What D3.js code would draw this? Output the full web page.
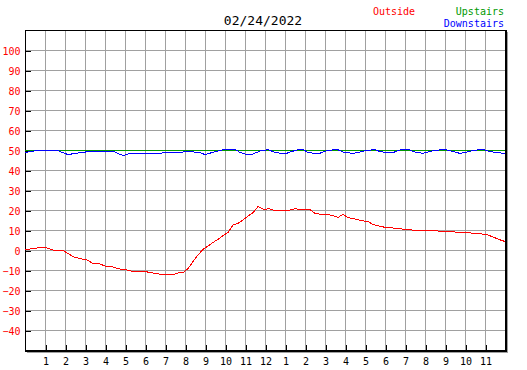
<!DOCTYPE html>
<html>
<head>
<meta charset="utf-8">
<script src="https://cdn.jsdelivr.net/npm/d3@7"></script>
<style>
  body { margin: 0; background: #fff; }
  svg { display: block; font-family: "DejaVu Sans Mono", monospace; }
</style>
</head>
<body>
<svg class="canvas"></svg>
<script>
/*
  daily temperature chart - outside / upstairs / downstairs
*/

var dwidth = 527;
var dheight = 370;
var pleft = 25, pright = 505, ptop = 30, pbottom = 350;

// data - hours since midnight and degrees
var outsideHours = [0,0.4,0.83,1.08,1.4,1.9,2.15,2.4,2.75,3.1,3.4,3.75,4.0,4.35,4.6,5.1,5.5,6.0,6.25,6.85,7.4,7.65,7.9,8.15,8.4,8.65,8.9,9.15,9.4,9.65,9.9,10.15,10.4,10.65,10.9,11.15,11.4,11.65,11.85,12.0,12.15,12.4,12.75,13.1,13.5,13.9,14.25,14.5,14.85,15.15,15.4,15.65,15.9,16.15,16.5,16.75,17.15,17.4,17.75,18.1,18.65,19.0,19.6,20.65,21.85,22.6,23.1,23.35,23.6,23.85,24];
var outsideTemps = [0.3,0.6,1.5,1.0,0,-0.3,-1.7,-3.3,-4.3,-5,-6.7,-7,-8,-8.2,-9.3,-10,-11,-10.7,-11.3,-12.2,-12.3,-11.5,-11.3,-9.3,-5.8,-2.5,0.3,2,3.8,5.3,7.2,8.7,12.5,13.3,15,17,18.7,21.7,20.8,20,20.8,20,19.8,19.5,20.7,20,20.2,18.3,17.8,17.7,17.2,16.3,17.8,16.2,15.5,14.8,14.2,12.8,11.8,11.2,10.8,10.3,9.8,9.5,8.8,8.3,7.7,6.7,5.7,4.7,4.3];

var upstairsHours = [0,0.6,1.5,1.6,3.3,3.4,6.5,6.6,8.8,8.9,11.0,11.1,24];
var upstairsTemps = [49.6,50,50,49.6,49.6,50,50,49.6,49.6,50,50,50,50];

var downstairsHours = [0,0.25,0.65,1.6,1.9,2.15,2.5,2.9,3.35,4.4,4.65,4.9,5.15,5.5,6.4,7.6,8.25,8.75,9.0,9.35,9.85,10.5,10.75,11.1,11.4,11.75,12.15,12.5,13.0,13.25,13.6,13.9,14.15,14.65,14.9,15.15,15.6,15.9,16.4,16.75,17.1,17.5,17.75,18.15,18.4,18.75,19.15,19.5,19.9,20.15,20.5,21.0,21.4,21.75,22.1,22.4,22.9,23.25,23.65,23.9,24];
var downstairsTemps = [48.7,49.2,49.8,49.8,48.7,47.7,48.3,48.8,49.5,49.5,48.3,47.2,48,48.3,48.3,48.8,49.2,48.7,47.7,48.7,50,50.3,48.8,47.7,48,49.5,50.2,48.8,48,49,50,50.2,48.8,48,49,49.8,50.3,49,48.3,49,49.8,50.2,49.2,48.7,48.7,50,50.3,49,48.3,49,49.8,50.3,49.2,48.3,49,49.8,50.3,49.2,48.7,48.3,48.3];

var yTicks = [100,90,80,70,60,50,40,30,20,10,0,-10,-20,-30,-40];
var xTicks = d3.range(1,24);
var titleText = "02/24/2022";

//Grab canvas
var canv = d3.select(".canvas").attr("width", dwidth).attr("height", dheight);

//Scales
var sx = d3.scaleLinear().domain([0,24]).range([pleft,pright]);
var sy = d3.scaleLinear().domain([-50,110]).range([pbottom,ptop]);

//Grid
var grid = canv.append("g").attr("shape-rendering","crispEdges").attr("stroke","#a0a0a0");
grid.selectAll("line.v").data(d3.range(1,24)).enter().append("line")
  .attr("x1", function(d){ return sx(d)+0.5; }).attr("x2", function(d){ return sx(d)+0.5; })
  .attr("y1", ptop).attr("y2", pbottom);
grid.selectAll("line.h").data(d3.range(-40,110,10)).enter().append("line")
  .attr("y1", function(d){ return sy(d)+0.5; }).attr("y2", function(d){ return sy(d)+0.5; })
  .attr("x1", pleft).attr("x2", pright);

//Shadow + frame
canv.append("line").attr("x1", pright+2.5).attr("x2", pright+2.5).attr("y1", ptop+2).attr("y2", pbottom+3)
  .attr("stroke","#a0a0a0").attr("shape-rendering","crispEdges");
canv.append("line").attr("x1", pleft+2).attr("x2", pright+3).attr("y1", pbottom+2.5).attr("y2", pbottom+2.5)
  .attr("stroke","#a0a0a0").attr("shape-rendering","crispEdges");
var frame = canv.append("g").attr("stroke","#000").attr("shape-rendering","crispEdges");
frame.append("line").attr("x1", pleft+0.5).attr("x2", pleft+0.5).attr("y1", ptop).attr("y2", pbottom+2);
frame.append("line").attr("x1", pleft).attr("x2", pright+2).attr("y1", ptop+0.5).attr("y2", ptop+0.5);
frame.append("line").attr("x1", pright+1).attr("x2", pright+1).attr("y1", ptop).attr("y2", pbottom+2).attr("stroke-width",2);
frame.append("line").attr("x1", pleft).attr("x2", pright+2).attr("y1", pbottom+1).attr("y2", pbottom+1).attr("stroke-width",2);

//Axes
var yAxis = d3.axisLeft(sy).tickValues(yTicks).tickSizeInner(-5).tickSizeOuter(0).tickPadding(5);
var gy = canv.append("g").attr("transform","translate("+(pleft+0.5)+",0.5)").call(yAxis);
gy.select(".domain").remove();
gy.selectAll("line").attr("stroke","#000").attr("shape-rendering","crispEdges");
gy.selectAll("text").attr("fill","#ff0000").attr("font-size","10px").attr("font-family","DejaVu Sans Mono").attr("dy","0.4em");

var xAxis = d3.axisBottom(sx).tickValues(xTicks).tickSizeInner(-5).tickSizeOuter(0).tickPadding(8)
  .tickFormat(function(h){ return (h % 12 === 0) ? 12 : h % 12; });
var gx = canv.append("g").attr("transform","translate(0.5,"+pbottom+")").call(xAxis);
gx.select(".domain").remove();
gx.selectAll("line").attr("stroke","#000").attr("shape-rendering","crispEdges");
gx.selectAll("text").attr("fill","#000").attr("font-size","10px").attr("font-family","DejaVu Sans Mono");

//Lines
function series(hours, temps) {
  return hours.map(function(h,i){ return {h: h, t: temps[i]}; });
}
var line = d3.line().x(function(d){ return sx(d.h); }).y(function(d){ return sy(d.t); });
var lines = [
  {data: series(outsideHours, outsideTemps), col: "#ff0000"},
  {data: series(upstairsHours, upstairsTemps), col: "#009900"},
  {data: series(downstairsHours, downstairsTemps), col: "#0000ff"}
];
canv.selectAll("path.series").data(lines).enter().append("path")
  .attr("class","series")
  .attr("d", function(d){ return line(d.data); })
  .attr("fill","none")
  .attr("stroke", function(d){ return d.col; })
  .attr("stroke-width", 1)
  .attr("shape-rendering","crispEdges");

//Title + legend
canv.append("text").attr("x", 263).attr("y", 25).attr("text-anchor","middle")
  .attr("font-size","13px").attr("fill","#000").text(titleText);
canv.append("text").attr("x", 373).attr("y", 15).attr("font-size","10px").attr("fill","#ff0000").text("Outside");
canv.append("text").attr("x", 504).attr("y", 15).attr("text-anchor","end").attr("font-size","10px").attr("fill","#009900").text("Upstairs");
canv.append("text").attr("x", 504).attr("y", 27).attr("text-anchor","end").attr("font-size","10px").attr("fill","#0000ff").text("Downstairs");
</script>
</body>
</html>
